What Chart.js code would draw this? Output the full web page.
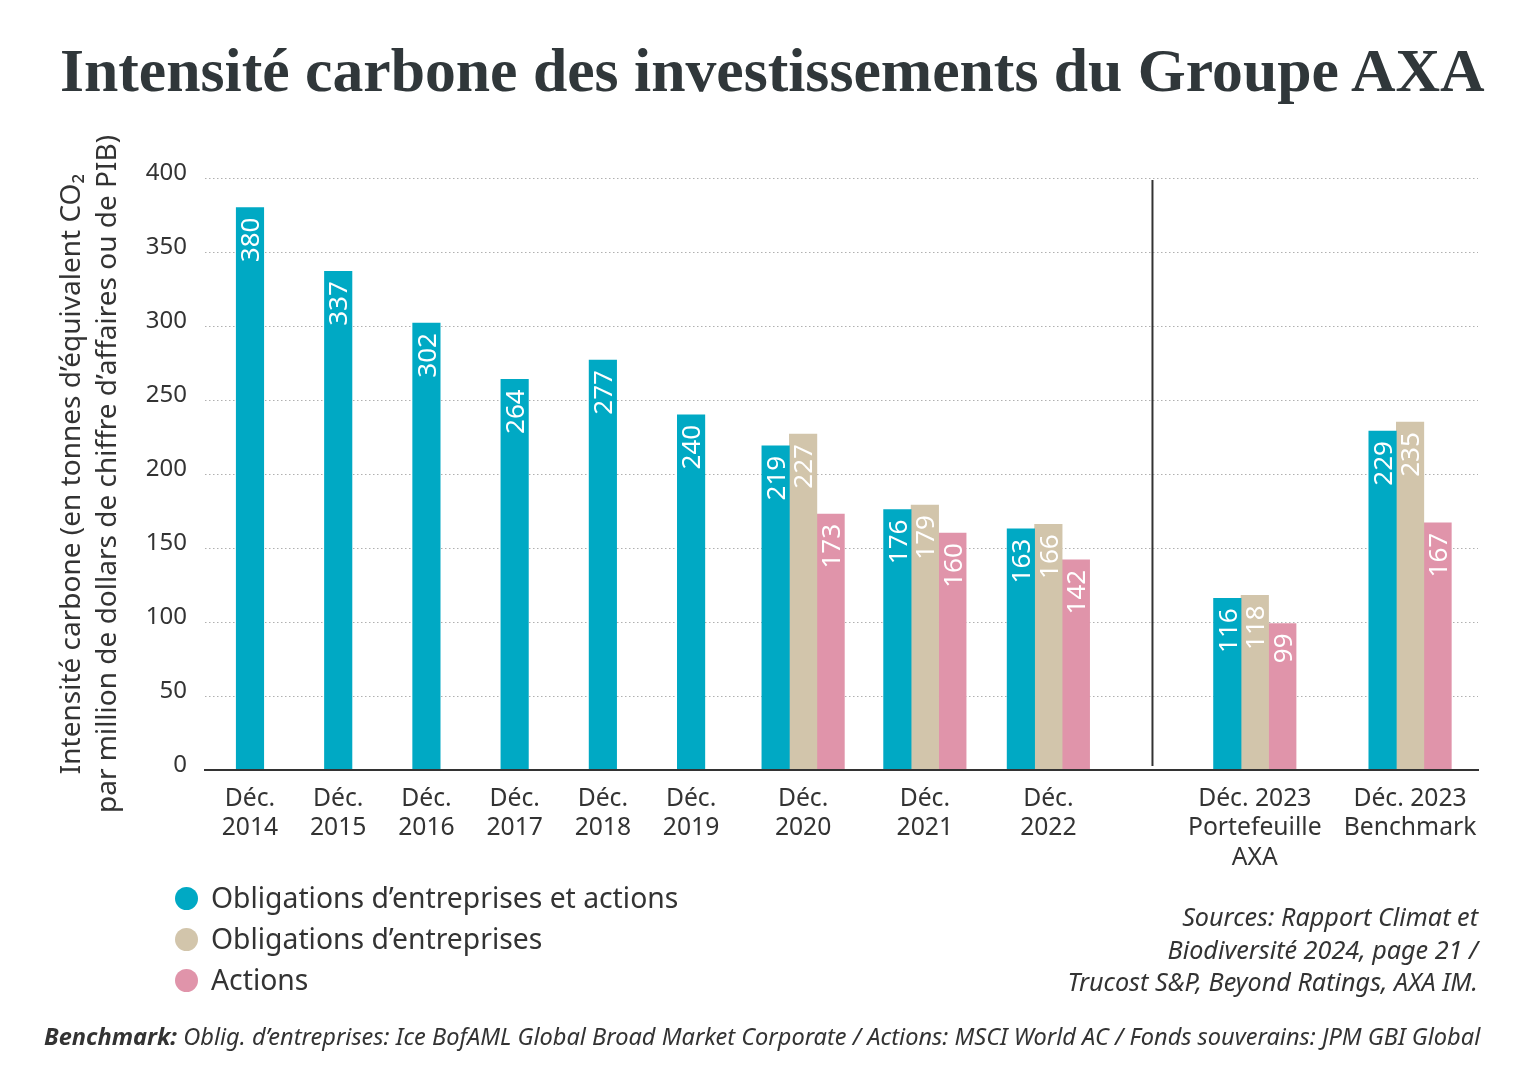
<!DOCTYPE html>
<html lang="fr">
<head>
<meta charset="utf-8">
<title>Intensité carbone des investissements du Groupe AXA</title>
<script src="https://cdn.jsdelivr.net/npm/chart.js@4.4.1/dist/chart.umd.min.js"></script>
<style>
  html, body { margin: 0; padding: 0; background: #fff; }
  body { width: 1536px; height: 1085px; position: relative; overflow: hidden; font-family: 'Noto Sans', sans-serif; color: #333; }
  #chart-box { position: absolute; left: 0; top: 0; width: 1536px; height: 1085px; }
  h1 { position: absolute; left: 60px; top: 40px; margin: 0; font-family: 'Liberation Serif', serif; font-weight: bold; font-size: 60px; line-height: 1; white-space: nowrap; color: #30373a; }
  #legend { position: absolute; left: 175px; top: 877px; font-size: 28.3px; line-height: 41px; }
  #legend div { white-space: nowrap; }
  #legend span { display: inline-block; width: 23px; height: 23px; border-radius: 50%; margin-right: 13px; vertical-align: -2px; }
  #sources { position: absolute; right: 58px; top: 900px; text-align: right; font-style: italic; font-size: 25.2px; line-height: 32.5px; }
  #footnote { position: absolute; left: 44px; top: 1021px; font-style: italic; font-size: 22px; line-height: 30px; white-space: nowrap; }
  #footnote b { font-weight: bold; }
</style>
</head>
<body>
<div id="chart-box"><canvas id="axa-chart"></canvas></div>
<h1 id="titre">Intensité carbone des investissements du Groupe AXA</h1>
<div id="legend"></div>
<div id="sources">Sources: Rapport Climat et<br>Biodiversité 2024, page 21 /<br>Trucost S&amp;P, Beyond Ratings, AXA IM.</div>
<div id="footnote"><b>Benchmark:</b> Oblig. d’entreprises: Ice BofAML Global Broad Market Corporate / Actions: MSCI World AC / Fonds souverains: JPM GBI Global</div>
<script>
// --- donnees ---
const categories = [
    ['Déc.', '2014'], ['Déc.', '2015'], ['Déc.', '2016'], ['Déc.', '2017'],
    ['Déc.', '2018'], ['Déc.', '2019'], ['Déc.', '2020'], ['Déc.', '2021'],
    ['Déc.', '2022'], ['Déc. 2023', 'Portefeuille', 'AXA'], ['Déc. 2023', 'Benchmark']
]
const seriesNames = ['Obligations d’entreprises et actions', 'Obligations d’entreprises', 'Actions']
const oblEtActions = [380, 337, 302, 264, 277, 240, 219, 176, 163, 116, 229]
const obligations = [null, null, null, null, null, null, 227, 179, 166, 118, 235]
const actions = [null, null, null, null, null, null, 173, 160, 142, 99, 167]
const yMax = 400
const yStep = 50
const yTitle = ['Intensité carbone (en tonnes d’équivalent CO₂', 'par million de dollars de chiffre d’affaires ou de PIB)']

// --- mise en page de l'axe x (en pas d'une annee) ---
const slotPos = [0, 1, 2, 3, 4, 5, 6.27, 7.65, 9.05, 11.39, 13.15]
const separatorPos = 10.23
const xMin = -0.51
const xMax = 13.92

const colors = ['#00a9c4', '#d2c5ab', '#e094aa']
const textColor = '#333'

Chart.defaults.font.family = "'Noto Sans', sans-serif"
Chart.defaults.color = textColor

const toPoints = (values) => values.map((v, i) => ({ x: slotPos[i], y: v }))

const legendBox = document.querySelector('#legend')
seriesNames.forEach((name, i) => {
    let row = document.createElement('div')
    let dot = document.createElement('span')
    dot.style.background = colors[i]
    row.appendChild(dot)
    row.appendChild(document.createTextNode(name))
    legendBox.appendChild(row)
})

const fitWidth = (el, target) => {
    let w = el.getBoundingClientRect().width
    let size = parseFloat(getComputedStyle(el).fontSize)
    el.style.fontSize = (size * target / w) + 'px'
}
fitWidth(document.querySelector('#titre'), 1425)
fitWidth(document.querySelector('#footnote'), 1437)

const barLabels = {
    id: 'barLabels',
    afterDatasetsDraw(chart) {
        const ctx = chart.ctx
        const size = 26
        ctx.save()
        ctx.fillStyle = '#fff'
        ctx.font = size + "px 'Noto Sans'"
        ctx.textAlign = 'right'
        ctx.textBaseline = 'alphabetic'
        chart.data.datasets.forEach((ds, i) => {
            chart.getDatasetMeta(i).data.forEach((bar, j) => {
                let v = ds.data[j].y
                if (v == null) return
                ctx.save()
                ctx.translate(bar.x, bar.y + 10)
                ctx.rotate(-Math.PI / 2)
                ctx.fillText(String(v), 0, size * 0.357)
                ctx.restore()
            })
        })
        ctx.restore()
    }
}

const separator = {
    id: 'separator',
    afterDatasetsDraw(chart) {
        const { ctx, scales: { x, y } } = chart
        let px = x.getPixelForValue(separatorPos)
        ctx.save()
        ctx.strokeStyle = textColor
        ctx.lineWidth = 2
        ctx.beginPath()
        ctx.moveTo(px, y.top + 2)
        ctx.lineTo(px, y.bottom - 4)
        ctx.stroke()
        ctx.restore()
    }
}

const data = {
    datasets: [oblEtActions, obligations, actions].map((values, i) => ({
        label: seriesNames[i],
        data: toPoints(values),
        backgroundColor: colors[i],
        borderWidth: 0,
        barThickness: 27.5,
        skipNull: true
    }))
}

const config = {
    type: 'bar',
    data: data,
    options: {
        responsive: true,
        maintainAspectRatio: false,
        animation: false,
        layout: { padding: { left: 0, top: 178, right: 58, bottom: 200 } },
        plugins: { legend: { display: false }, tooltip: { enabled: false } },
        scales: {
            x: {
                type: 'linear',
                min: xMin,
                max: xMax,
                offset: false,
                grid: { display: false, offset: false },
                border: { display: true, color: textColor, width: 2, z: 1 },
                afterBuildTicks: (scale) => { scale.ticks = slotPos.map(v => ({ value: v })) },
                afterFit: (scale) => { scale.height = 115 },
                ticks: {
                    autoSkip: false,
                    maxRotation: 0,
                    minRotation: 0,
                    padding: 6,
                    color: textColor,
                    font: { size: 24.7, lineHeight: 1.2 },
                    callback: (value, index) => categories[index]
                }
            },
            y: {
                min: 0,
                max: yMax,
                grid: {
                    drawTicks: false,
                    lineWidth: 1,
                    color: (ctx) => ctx.tick && ctx.tick.value === 0 ? 'rgba(0,0,0,0)' : '#b0b0b0'
                },
                border: { display: false, dash: [1.5, 2.5] },
                afterFit: (scale) => { scale.width = 205 },
                ticks: {
                    stepSize: yStep,
                    padding: 18,
                    labelOffset: -5,
                    color: textColor,
                    font: { size: 24 }
                },
                title: {
                    display: true,
                    text: yTitle,
                    color: textColor,
                    font: { size: 28, lineHeight: 1.29 },
                    padding: { top: 54, bottom: 0 }
                }
            }
        }
    },
    plugins: [barLabels, separator]
}

new Chart(document.querySelector('#axa-chart'), config)
</script>
</body>
</html>
